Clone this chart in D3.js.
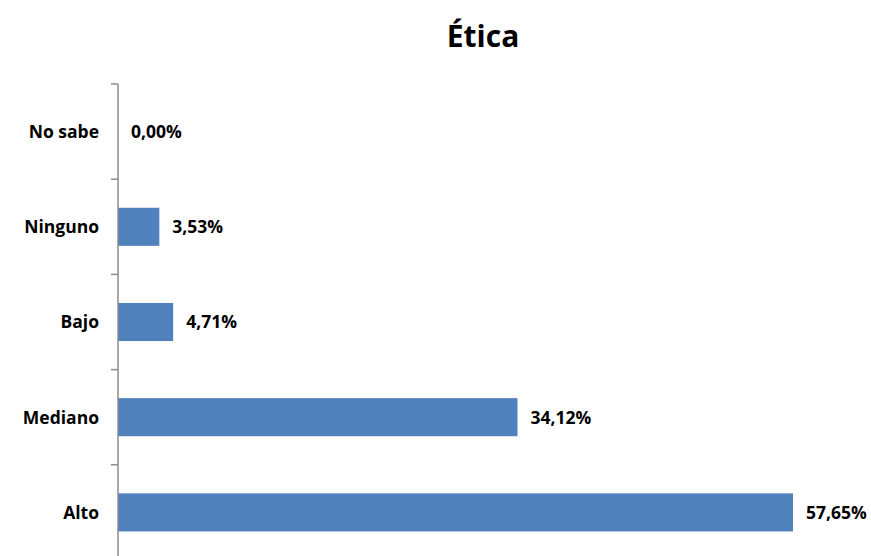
<!DOCTYPE html>
<html>
<head>
<meta charset="utf-8">
<script src="https://cdn.jsdelivr.net/npm/d3@7"></script>
<style>
  body { margin: 0; background: #fff; }
  svg { display: block; font-family: "Open Sans", sans-serif; }
</style>
</head>
<body>
<svg width="871" height="556"></svg>
<script>
'use strict'

const categories = ['No sabe', 'Ninguno', 'Bajo', 'Mediano', 'Alto'];
const values = [0.00, 3.53, 4.71, 34.12, 57.65];
const title = 'Ética';

const AXIS_X = 118;
const TOP = 84;
const BOTTOM = 560;

const svg = d3.select('svg');

const x = d3.scaleLinear()
  .domain([0, 57.65])
  .range([AXIS_X, 793]);

const y = d3.scaleBand()
  .domain(categories)
  .range([TOP, BOTTOM])
  .paddingInner(0.6)
  .paddingOuter(0.3);

const data = categories.map((c, i) => ({ cat: c, v: values[i] }));

svg.append('text')
  .attr('x', 483)
  .attr('y', 47)
  .attr('text-anchor', 'middle')
  .style('font-size', '30px')
  .style('font-weight', 'bold')
  .text(title);

svg.selectAll('rect.bar')
  .data(data)
  .join('rect')
  .attr('class', 'bar')
  .attr('x', AXIS_X)
  .attr('y', d => y(d.cat))
  .attr('width', d => x(d.v) - AXIS_X)
  .attr('height', y.bandwidth())
  .style('fill', '#4f81bd');

// value labels
svg.selectAll('text.val')
  .data(data)
  .join('text')
  .attr('class', 'val')
  .attr('x', d => x(d.v) + 13)
  .attr('y', d => y(d.cat) + y.bandwidth() / 2)
  .attr('dy', '0.36em')
  .style('font-size', '17.5px')
  .style('font-weight', 'bold')
  .text(d => d.v.toFixed(2).replace('.', ',') + '%');

// category axis: line with boundary ticks
const step = y.step();
const ticks = d3.range(categories.length + 1).map(i => TOP + i * step);

svg.append('line')
  .attr('x1', AXIS_X).attr('x2', AXIS_X)
  .attr('y1', TOP).attr('y2', BOTTOM)
  .style('stroke', '#8c8c8c')
  .style('stroke-width', 1.5);

svg.selectAll('line.tick')
  .data(ticks)
  .join('line')
  .attr('class', 'tick')
  .attr('x1', AXIS_X - 7).attr('x2', AXIS_X)
  .attr('y1', d => d).attr('y2', d => d)
  .style('stroke', '#8c8c8c')
  .style('stroke-width', 1.5);

svg.selectAll('text.cat')
  .data(categories)
  .join('text')
  .attr('class', 'cat')
  .attr('x', 99)
  .attr('y', d => y(d) + y.bandwidth() / 2)
  .attr('dy', '0.36em')
  .attr('text-anchor', 'end')
  .style('font-size', '17.5px')
  .style('font-weight', 'bold')
  .text(d => d);
</script>
</body>
</html>
